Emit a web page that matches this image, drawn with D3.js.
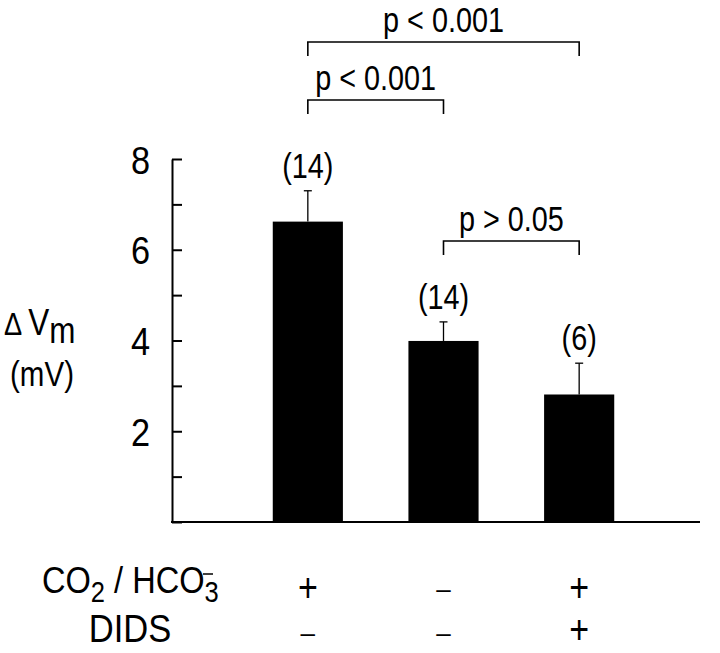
<!DOCTYPE html>
<html>
<head>
<meta charset="utf-8">
<script src="https://cdn.jsdelivr.net/npm/d3@7"></script>
<style>
  body { margin: 0; background: #fff; }
  svg text { font-family: "Liberation Sans", Arial, sans-serif; fill: #000; }
</style>
</head>
<body>
<div id="chart"></div>
<script>
// dati del grafico
var groups = ["ctrl", "noCO2", "DIDS"];
var means = [6.62, 3.99, 2.81];
var errors = [0.68, 0.42, 0.69];
var nLabels = ["(14)", "(14)", "(6)"];
var co2Row = ["+", "\u2013", "+"];
var didsRow = ["\u2013", "\u2013", "+"];
var yTicks = [2, 4, 6, 8];
var comparisons = [[0, 2, "p < 0.001"], [0, 1, "p < 0.001"], [1, 2, "p > 0.05"]];

var width = 720, height = 653;
var svg = d3.select("#chart").append("svg")
  .attr("width", width)
  .attr("height", height);

var x = d3.scaleBand()
  .domain(groups)
  .range([240, 647])
  .paddingInner(0.483)
  .paddingOuter(0.2415);

var y = d3.scaleLinear()
  .domain([0, 8])
  .range([522, 159]);

function cx(i) { return x(groups[i]) + x.bandwidth() / 2; }

// testo condensato come nell'originale
function label(g, px, py, txt, size, sx) {
  return g.append("text")
    .attr("transform", "translate(" + px + "," + py + ") scale(" + sx + ",1)")
    .attr("text-anchor", "middle")
    .attr("font-size", size + "px")
    .text(txt);
}

// barre
svg.selectAll(".bar")
  .data(means)
  .enter()
  .append("rect")
  .attr("class", "bar")
  .attr("x", function (d, i) { return x(groups[i]); })
  .attr("width", x.bandwidth())
  .attr("y", function (d) { return y(d); })
  .attr("height", function (d) { return y(0) - y(d); })
  .attr("fill", "#000");

// barre di errore
var err = svg.append("g").attr("stroke", "#000").attr("stroke-width", 1.3);
means.forEach(function (m, i) {
  err.append("line")
    .attr("x1", cx(i)).attr("x2", cx(i))
    .attr("y1", y(m)).attr("y2", y(m + errors[i]));
  err.append("line")
    .attr("x1", cx(i) - 4).attr("x2", cx(i) + 4)
    .attr("y1", y(m + errors[i])).attr("y2", y(m + errors[i]));
  label(svg, cx(i), y(m + errors[i]) - 13, nLabels[i], 36, 0.8);
});

// asse y, tacche verso l'interno
var yAxis = svg.append("g")
  .attr("transform", "translate(172,0)")
  .call(d3.axisRight(y).ticks(8).tickSize(10).tickSizeOuter(0).tickFormat(""));
yAxis.selectAll("path, line").attr("stroke", "#000").attr("stroke-width", 2);

var yLabels = svg.append("g")
  .attr("transform", "translate(172,0)")
  .call(d3.axisLeft(y).tickValues(yTicks).tickSize(0).tickPadding(22));
yLabels.select(".domain").remove();
yLabels.selectAll("text")
  .attr("font-size", "39px")
  .attr("font-family", "Liberation Sans, Arial, sans-serif")
  .attr("dy", "0.36em")
  .attr("transform", function () {
    var tx = +d3.select(this).attr("x");
    return "translate(" + tx + ",0) scale(0.88,1) translate(" + (-tx) + ",0)";
  });

// linea di base
svg.append("line")
  .attr("x1", 171).attr("x2", 700)
  .attr("y1", y(0)).attr("y2", y(0))
  .attr("stroke", "#000").attr("stroke-width", 2);

// parentesi di significatività
var bracketY = [42, 100, 241];
comparisons.forEach(function (c, k) {
  var x1 = cx(c[0]), x2 = cx(c[1]), by = bracketY[k];
  svg.append("path")
    .attr("d", "M" + x1 + "," + (by + 14) + "V" + by + "H" + x2 + "V" + (by + 14))
    .attr("fill", "none")
    .attr("stroke", "#000")
    .attr("stroke-width", 1.6);
  label(svg, (x1 + x2) / 2, by - 10, c[2], 36, 0.8);
});

// etichetta asse y
var yt = svg.append("text")
  .attr("transform", "translate(4,335) scale(0.85,1)")
  .attr("font-size", "37px");
yt.append("tspan").attr("font-size", "32px").text("\u0394 ");
yt.append("tspan").text("V");
yt.append("tspan").attr("dy", 8).text("m");
label(svg, 42, 386, "(mV)", 36, 0.82);

// righe delle condizioni
var c1 = svg.append("text")
  .attr("transform", "translate(42,593) scale(0.88,1)")
  .attr("font-size", "37px");
c1.append("tspan").text("CO");
c1.append("tspan").attr("dy", 9).attr("font-size", "29px").text("2");
c1.append("tspan").attr("dy", -9).text(" / HCO");
c1.append("tspan").attr("dy", 9).attr("font-size", "29px").text("3");
svg.append("line")
  .attr("x1", 203).attr("x2", 213)
  .attr("y1", 574).attr("y2", 574)
  .attr("stroke", "#000").attr("stroke-width", 1.5);

label(svg, 130, 642, "DIDS", 38, 0.91);

var rowBase = [[602, 598], [644, 642]];
co2Row.forEach(function (s, i) {
  if (s === "+") label(svg, cx(i), rowBase[0][0], s, 40, 0.85);
  else label(svg, cx(i), rowBase[0][1], s, 26, 1);
});
didsRow.forEach(function (s, i) {
  if (s === "+") label(svg, cx(i), rowBase[1][0], s, 40, 0.85);
  else label(svg, cx(i), rowBase[1][1], s, 26, 1);
});
</script>
</body>
</html>
